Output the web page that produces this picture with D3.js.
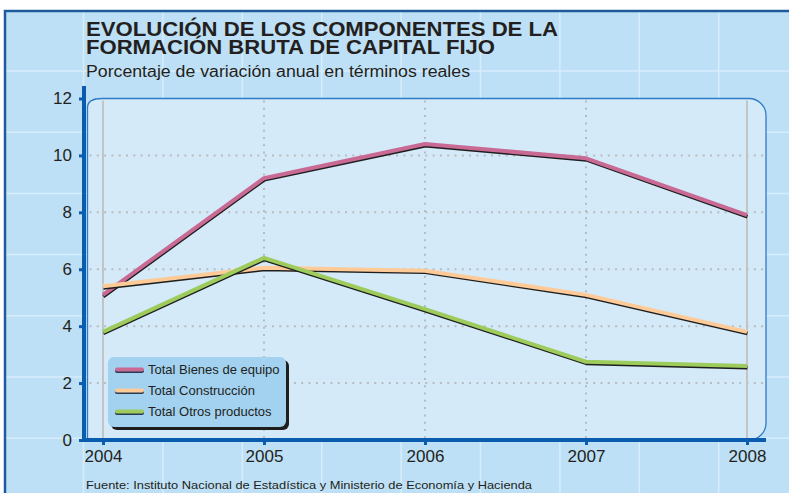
<!DOCTYPE html>
<html>
<head>
<meta charset="utf-8">
<script src="https://cdn.jsdelivr.net/npm/d3@7"></script>
<style>
  body { margin: 0; background: #fff; }
  svg { display: block; font-family: "Liberation Sans", Arial, sans-serif; }
</style>
</head>
<body>
<svg id="chart" width="789" height="493"></svg>
<script>
// datos
var years = [2004, 2005, 2006, 2007, 2008];
var bienes = [5.1, 9.2, 10.4, 9.9, 7.9];
var construccion = [5.4, 6.05, 5.95, 5.1, 3.8];
var otros = [3.8, 6.4, 4.6, 2.75, 2.6];
var seriesNames = ["Total Bienes de equipo", "Total Construcción", "Total Otros productos"];
var yTicks = [0, 2, 4, 6, 8, 10, 12];

var colors = ["#c96a95", "#fdca98", "#9dcb5c"];
var series = [bienes, construccion, otros];

var svg = d3.select("#chart"),
    W = +svg.attr("width"),
    H = +svg.attr("height");

// escalas
var x = d3.scaleLinear().domain([2004, 2008]).range([103, 747]);
var y = d3.scaleLinear().domain([0, 12]).range([440, 98.5]);

// fondo general
svg.append("rect").attr("x", 4).attr("y", 10).attr("width", W).attr("height", H)
    .attr("fill", "#bde0f6");
// cuadricula decorativa del fondo
var bg = svg.append("g").attr("stroke", "#d8edfb").attr("stroke-width", 1.5);
d3.range(83.5, W, 79.4).forEach(function(v) {
    bg.append("line").attr("x1", v).attr("x2", v).attr("y1", 11).attr("y2", H);
});
d3.range(71, H, 61.2).forEach(function(v) {
    bg.append("line").attr("x1", 5).attr("x2", W).attr("y1", v).attr("y2", v);
});
// borde exterior
svg.append("path").attr("d", "M5," + H + "V11H" + W)
    .attr("fill", "none").attr("stroke", "#1f5b9c").attr("stroke-width", 2.5);

// panel del grafico con esquinas redondeadas
var L = 87.5, T = 98.5, R = 766, B = 440, r = 17;
svg.append("path")
    .attr("d", "M" + L + "," + B + "V" + (T + 9) + "Q" + L + "," + T + " " + (L + 15) + "," + T +
        "H" + (R - r) + "A" + r + "," + r + " 0 0 1 " + R + "," + (T + r) +
        "V" + (B - r) + "A" + r + "," + r + " 0 0 1 " + (R - r) + "," + B + "Z")
    .attr("fill", "#d4eaf8").attr("stroke", "#2f7cc6").attr("stroke-width", 1.3);

// lineas de cuadricula punteadas
var grid = svg.append("g");
grid.selectAll("line.h")
    .data(yTicks.filter(function(d) { return d > 0 && d < 12; }))
    .enter().append("line")
    .attr("x1", L + 2).attr("x2", R)
    .attr("y1", function(d) { return y(d); }).attr("y2", function(d) { return y(d); })
    .attr("stroke", "#b8bcc0").attr("stroke-width", 2).attr("stroke-dasharray", "2,5.3");
grid.selectAll("line.v")
    .data(years)
    .enter().append("line")
    .attr("x1", function(d) { return x(d); }).attr("x2", function(d) { return x(d); })
    .attr("y1", T + 2).attr("y2", B)
    .attr("stroke", function(d, i) { return (i === 0 || i === years.length - 1) ? "#c2c4c6" : "#b8bcc0"; })
    .attr("stroke-width", 2)
    .attr("stroke-dasharray", function(d, i) { return (i === 0 || i === years.length - 1) ? null : "2,5.3"; });

// lineas de datos
var line = d3.line()
    .x(function(d, i) { return x(years[i]); })
    .y(function(d) { return y(d); });
var lines = svg.append("g");
series.forEach(function(s, k) {
    lines.append("path").attr("d", line(s))
        .attr("fill", "none").attr("stroke", "#1e1e1e").attr("stroke-width", 3.6)
        .attr("stroke-linejoin", "round")
        .attr("transform", "translate(0.4,1.6)");
    lines.append("path").attr("d", line(s))
        .attr("fill", "none").attr("stroke", colors[k]).attr("stroke-width", 4)
        .attr("stroke-linejoin", "round");
});

// eje Y
var yAxis = svg.append("g").attr("transform", "translate(84,0)")
    .call(d3.axisLeft(y).tickValues(yTicks).tickSize(5).tickPadding(7).tickSizeOuter(0));
yAxis.select(".domain").remove();
yAxis.selectAll(".tick line").attr("stroke", "#0a5cae").attr("stroke-width", 3);
yAxis.selectAll(".tick text").attr("font-size", 17).attr("fill", "#231f20")
    .attr("font-family", "Liberation Sans, Arial, sans-serif");
svg.append("line").attr("x1", 84).attr("x2", 84).attr("y1", 86).attr("y2", 442)
    .attr("stroke", "#0a5cae").attr("stroke-width", 4);

// eje X
var xAxis = svg.append("g").attr("transform", "translate(0,440)")
    .call(d3.axisBottom(x).tickValues(years).tickFormat(d3.format("d")).tickSize(5).tickPadding(5).tickSizeOuter(0));
xAxis.select(".domain").remove();
xAxis.selectAll(".tick line").attr("stroke", "#0a5cae").attr("stroke-width", 3);
xAxis.selectAll(".tick text").attr("font-size", 17).attr("fill", "#231f20")
    .attr("font-family", "Liberation Sans, Arial, sans-serif");
svg.append("line").attr("x1", 82).attr("x2", R).attr("y1", 440).attr("y2", 440)
    .attr("stroke", "#0a5cae").attr("stroke-width", 4);

// leyenda
var lg = svg.append("g").attr("transform", "translate(108,357)");
lg.append("rect").attr("x", 3).attr("y", 3).attr("width", 178).attr("height", 70).attr("rx", 6)
    .attr("fill", "#1e1e1e");
lg.append("rect").attr("width", 178).attr("height", 70).attr("rx", 6)
    .attr("fill", "#a2d2f0");
var items = lg.selectAll("g.item").data(seriesNames)
    .enter().append("g")
    .attr("transform", function(d, i) { return "translate(0," + (12.5 + i * 21) + ")"; });
items.append("line").attr("x1", 9).attr("x2", 34).attr("y1", 1.5).attr("y2", 1.5)
    .attr("stroke", "#2a3a50").attr("stroke-width", 4).attr("stroke-linecap", "round");
items.append("line").attr("x1", 9).attr("x2", 34).attr("y1", 0).attr("y2", 0)
    .attr("stroke", function(d, i) { return colors[i]; }).attr("stroke-width", 4).attr("stroke-linecap", "round");
items.append("text").attr("x", 40).attr("y", 0).attr("dy", "0.35em")
    .attr("font-size", 13).attr("fill", "#231f20").text(function(d) { return d; });

// titulo en dos lineas (un solo texto)
var title = svg.append("text").attr("font-size", 20).attr("font-weight", "bold")
    .attr("fill", "#231f20");
title.append("tspan").attr("x", 86).attr("y", 36)
    .attr("textLength", 472).attr("lengthAdjust", "spacingAndGlyphs")
    .text("EVOLUCIÓN DE LOS COMPONENTES DE LA");
title.append("tspan").attr("x", 86).attr("y", 53.5)
    .attr("textLength", 409).attr("lengthAdjust", "spacingAndGlyphs")
    .text("FORMACIÓN BRUTA DE CAPITAL FIJO");
svg.append("text").attr("x", 86).attr("y", 77).attr("font-size", 16)
    .attr("fill", "#231f20").attr("textLength", 384).attr("lengthAdjust", "spacingAndGlyphs")
    .text("Porcentaje de variación anual en términos reales");
svg.append("text").attr("x", 86).attr("y", 489).attr("font-size", 11.5)
    .attr("fill", "#231f20").attr("textLength", 446).attr("lengthAdjust", "spacingAndGlyphs")
    .text("Fuente: Instituto Nacional de Estadística y Ministerio de Economía y Hacienda");
</script>
</body>
</html>
